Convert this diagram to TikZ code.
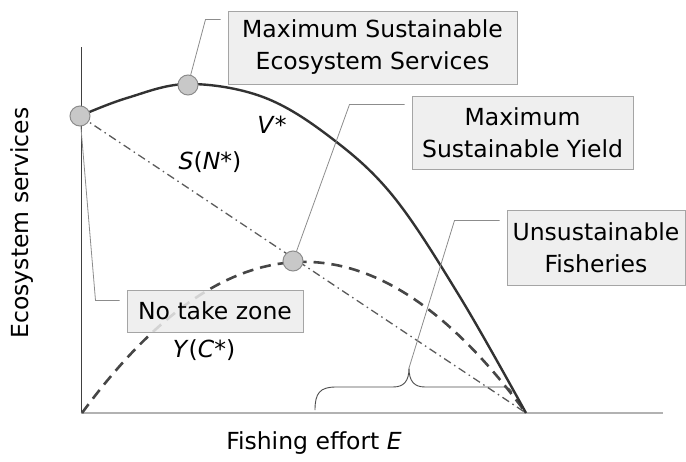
\documentclass[tikz,border=0pt]{standalone}
\usepackage{fontspec}
\setmainfont{DejaVu Sans}
\definecolor{boxfill}{RGB}{236,236,236}
\definecolor{boxline}{RGB}{165,165,165}
\definecolor{dotfill}{RGB}{200,200,200}
\definecolor{dotline}{RGB}{140,140,140}
\definecolor{curveink}{RGB}{50,50,50}
\tikzset{
  infobox/.style={draw=boxline,fill=boxfill,fill opacity=0.85,text opacity=1,
    line width=1pt,align=center,inner sep=0pt},
  dot/.style={circle,draw=dotline,fill=dotfill,line width=1pt,minimum size=20pt,inner sep=0pt},
  leader/.style={draw=gray!90,line width=0.8pt},
  vcurve/.style={curveink,line width=2.4pt},
  ycurve/.style={curveink!90,line width=2.6pt,dash pattern=on 11pt off 7pt},
  scurve/.style={curveink!80,line width=1.3pt,dash pattern=on 8pt off 4pt on 1.5pt off 4pt},
}

\begin{document}
\begin{tikzpicture}[x=1pt,y=-1pt,font=\fontsize{23.5}{32}\selectfont]
\useasboundingbox (0,0) rectangle (686,461);

% axes
\coordinate (origin) at (81,413);
\coordinate (ytop) at (81,47);
\coordinate (xend) at (663,413);
\coordinate (emax) at (526,413);
\draw[black!75,line width=0.9pt] (ytop) -- (origin);
\draw[black!30,line width=1.5pt] (origin) -- (xend);

% curves
\coordinate (notake) at (80,116);
\draw[scurve] (notake) -- (emax);
\draw[ycurve] plot[domain=82:526,samples=80] (\x,{413-0.003064*(\x-82)*(526-\x)});
\draw[vcurve] plot[smooth,tension=0.6] coordinates
  {(80,116) (127,98) (188,84) (263,97) (330,137) (393,196) (460,297) (526,413)};

\node (vlabel) at (272,125) {\textit{V}*};
\node (slabel) at (210,162) {\textit{S}(\textit{N}*)};
\node (ylabel) at (204,350) {\textit{Y}(\textit{C}*)};

% brace
\coordinate (bracetip) at (409,368);
\draw[black!70,line width=0.9pt] (315,410) .. controls (315,393) and (320,387) .. (336,387)
  -- (393,387) .. controls (404,387) and (409,381) .. (bracetip)
  .. controls (409,381) and (414,387) .. (425,387)
  -- (504,387) .. controls (508,387) and (510,389) .. (512,392);

% boxes
\node[infobox,minimum width=289pt,minimum height=73pt] (mses) at (372.5,47.5)
  {Maximum Sustainable\\Ecosystem Services};
\node[infobox,minimum width=221pt,minimum height=73pt] (msy) at (522.5,132.5)
  {Maximum\\Sustainable Yield};
\node[infobox,minimum width=178pt,minimum height=75pt] (unsus) at (596,247.5)
  {Unsustainable\\Fisheries};
\node[infobox,minimum width=176pt,minimum height=42pt] (notakebox) at (215,311)
  {No take zone};

% points
\node[dot] (notakedot) at (notake) {};
\node[dot] (msesdot) at (188,85) {};
\node[dot] (msydot) at (293,261) {};

% leaders
\draw[leader] ([shift={(-7,9)}]mses.north west) -- ++(-15,0) -- (msesdot);
\draw[leader] ([shift={(-7,9)}]msy.north west) -- ++(-55,0) -- (msydot);
\draw[leader] ([shift={(-7,11)}]unsus.north west) -- ++(-45,0) -- (bracetip);
\draw[leader] ([shift={(-7,11)}]notakebox.north west) -- ++(-24,0) -- (notakedot);

% axis titles
\node[rotate=90] (ytitle) at (22,223) {Ecosystem services};
\node (xtitle) at (314,443) {Fishing effort \textit{E}};
\end{tikzpicture}
\end{document}
